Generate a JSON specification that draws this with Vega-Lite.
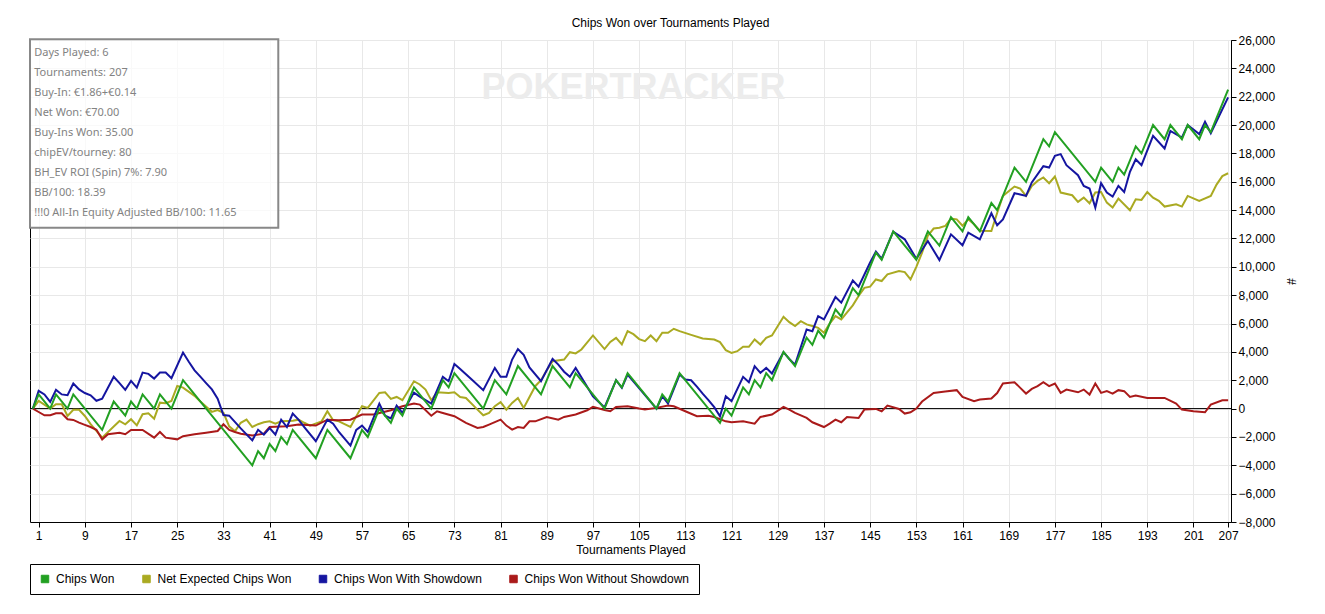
{
  "$schema": "https://vega.github.io/schema/vega-lite/v6.json",
  "width": 1201,
  "height": 482,
  "autosize": {"type": "none"},
  "padding": {"left": 30, "top": 40, "right": 94, "bottom": 92},
  "background": "white",
  "title": {
    "text": "Chips Won over Tournaments Played",
    "anchor": "middle",
    "dx": 40,
    "offset": 4,
    "font": "Liberation Sans",
    "fontSize": 12,
    "fontWeight": "normal",
    "color": "black"
  },
  "datasets": {
    "info": [
      {"line": 1, "label": "Days Played: 6"},
      {"line": 2, "label": "Tournaments: 207"},
      {"line": 3, "label": "Buy-In: €1.86+€0.14"},
      {"line": 4, "label": "Net Won: €70.00"},
      {"line": 5, "label": "Buy-Ins Won: 35.00"},
      {"line": 6, "label": "chipEV/tourney: 80"},
      {"line": 7, "label": "BH_EV ROI (Spin) 7%: 7.90"},
      {"line": 8, "label": "BB/100: 18.39"},
      {"line": 9, "label": "!!!0 All-In Equity Adjusted BB/100: 11.65"}
    ],
    "won": [
      {"t":0,"v":0},{"t":1,"v":1000},{"t":3,"v":0},{"t":4,"v":1000},{"t":6,"v":0},{"t":7,"v":1000},{"t":12,"v":-1500},{"t":14,"v":500},{"t":16,"v":-500},{"t":17,"v":500},{"t":18,"v":0},{"t":19,"v":1000},{"t":21,"v":0},{"t":22,"v":1000},{"t":24,"v":0},{"t":26,"v":2000},{"t":38,"v":-4000},{"t":39,"v":-3000},{"t":40,"v":-3500},{"t":41,"v":-2500},{"t":42,"v":-3000},{"t":43,"v":-2000},{"t":44,"v":-2500},{"t":45,"v":-1500},{"t":49,"v":-3500},{"t":51,"v":-1500},{"t":55,"v":-3500},{"t":57,"v":-1500},{"t":58,"v":-2000},{"t":60,"v":0},{"t":62,"v":-1000},{"t":63,"v":0},{"t":64,"v":-500},{"t":66,"v":1500},{"t":69,"v":0},{"t":71,"v":2000},{"t":72,"v":1500},{"t":73,"v":2500},{"t":78,"v":0},{"t":80,"v":2000},{"t":82,"v":1000},{"t":84,"v":3000},{"t":88,"v":1000},{"t":90,"v":3000},{"t":93,"v":1500},{"t":94,"v":2500},{"t":99,"v":0},{"t":101,"v":2000},{"t":102,"v":1500},{"t":103,"v":2500},{"t":108,"v":0},{"t":109,"v":1000},{"t":110,"v":500},{"t":112,"v":2500},{"t":119,"v":-1000},{"t":120,"v":0},{"t":121,"v":-500},{"t":123,"v":1500},{"t":124,"v":1000},{"t":125,"v":2000},{"t":126,"v":1500},{"t":127,"v":2500},{"t":128,"v":2000},{"t":130,"v":4000},{"t":132,"v":3000},{"t":134,"v":5000},{"t":135,"v":4500},{"t":136,"v":5500},{"t":137,"v":5000},{"t":139,"v":7000},{"t":140,"v":6500},{"t":142,"v":8500},{"t":143,"v":8000},{"t":146,"v":11000},{"t":147,"v":10500},{"t":149,"v":12500},{"t":153,"v":10500},{"t":155,"v":12500},{"t":157,"v":11500},{"t":159,"v":13500},{"t":161,"v":12500},{"t":162,"v":13500},{"t":164,"v":12500},{"t":166,"v":14500},{"t":167,"v":14000},{"t":170,"v":17000},{"t":172,"v":16000},{"t":175,"v":19000},{"t":176,"v":18500},{"t":177,"v":19500},{"t":184,"v":16000},{"t":185,"v":17000},{"t":187,"v":16000},{"t":188,"v":17000},{"t":189,"v":16500},{"t":191,"v":18500},{"t":192,"v":18000},{"t":194,"v":20000},{"t":196,"v":19000},{"t":197,"v":20000},{"t":199,"v":19000},{"t":200,"v":20000},{"t":202,"v":19000},{"t":203,"v":20000},{"t":204,"v":19500},{"t":207,"v":22500}
    ],
    "expected": [
      {"t":0,"v":0},{"t":1,"v":540},{"t":3,"v":0},{"t":4,"v":310},{"t":5,"v":310},{"t":6,"v":-520},{"t":7,"v":-90},{"t":8,"v":-90},{"t":9,"v":-520},{"t":10,"v":-1100},{"t":12,"v":-2050},{"t":14,"v":-1270},{"t":15,"v":-870},{"t":16,"v":-1110},{"t":17,"v":-750},{"t":18,"v":-1180},{"t":19,"v":-400},{"t":20,"v":-330},{"t":21,"v":-710},{"t":22,"v":420},{"t":23,"v":380},{"t":24,"v":540},{"t":25,"v":1600},{"t":26,"v":1480},{"t":28,"v":900},{"t":29,"v":500},{"t":31,"v":-230},{"t":32,"v":-100},{"t":33,"v":-300},{"t":34,"v":-1250},{"t":35,"v":-1600},{"t":36,"v":-1000},{"t":37,"v":-780},{"t":38,"v":-1300},{"t":39,"v":-1100},{"t":40,"v":-970},{"t":41,"v":-900},{"t":42,"v":-1060},{"t":43,"v":-900},{"t":45,"v":-850},{"t":46,"v":-780},{"t":47,"v":-1000},{"t":48,"v":-1200},{"t":50,"v":-900},{"t":51,"v":-190},{"t":52,"v":-820},{"t":53,"v":-900},{"t":55,"v":-1300},{"t":56,"v":-550},{"t":57,"v":170},{"t":58,"v":50},{"t":60,"v":1100},{"t":61,"v":1150},{"t":62,"v":680},{"t":63,"v":820},{"t":64,"v":590},{"t":66,"v":1930},{"t":67,"v":1700},{"t":68,"v":1340},{"t":69,"v":590},{"t":70,"v":1150},{"t":72,"v":1100},{"t":73,"v":1150},{"t":74,"v":820},{"t":75,"v":750},{"t":77,"v":-70},{"t":78,"v":-470},{"t":79,"v":-310},{"t":80,"v":170},{"t":81,"v":450},{"t":82,"v":-70},{"t":83,"v":400},{"t":84,"v":750},{"t":85,"v":50},{"t":87,"v":1580},{"t":88,"v":2000},{"t":89,"v":2700},{"t":90,"v":3340},{"t":92,"v":3460},{"t":93,"v":3980},{"t":94,"v":3890},{"t":95,"v":4170},{"t":97,"v":5160},{"t":99,"v":4200},{"t":100,"v":4700},{"t":101,"v":4990},{"t":102,"v":4520},{"t":103,"v":5460},{"t":104,"v":5250},{"t":105,"v":4900},{"t":106,"v":4760},{"t":107,"v":5160},{"t":108,"v":4760},{"t":109,"v":5350},{"t":110,"v":5350},{"t":111,"v":5630},{"t":112,"v":5460},{"t":114,"v":5200},{"t":116,"v":4950},{"t":118,"v":4870},{"t":119,"v":4690},{"t":120,"v":4120},{"t":121,"v":3930},{"t":122,"v":4050},{"t":123,"v":4360},{"t":124,"v":4360},{"t":125,"v":4880},{"t":126,"v":4520},{"t":127,"v":4990},{"t":128,"v":5160},{"t":130,"v":6480},{"t":131,"v":6100},{"t":132,"v":5820},{"t":133,"v":6170},{"t":134,"v":5940},{"t":135,"v":5820},{"t":136,"v":5700},{"t":137,"v":5350},{"t":138,"v":6000},{"t":139,"v":6520},{"t":140,"v":6290},{"t":142,"v":7280},{"t":143,"v":7940},{"t":144,"v":8520},{"t":145,"v":8600},{"t":146,"v":9110},{"t":147,"v":9000},{"t":148,"v":9470},{"t":150,"v":9700},{"t":151,"v":9630},{"t":152,"v":9110},{"t":153,"v":10000},{"t":154,"v":11000},{"t":155,"v":12200},{"t":156,"v":12700},{"t":157,"v":12760},{"t":158,"v":12880},{"t":159,"v":13400},{"t":160,"v":13350},{"t":161,"v":12900},{"t":162,"v":13350},{"t":163,"v":13000},{"t":164,"v":12550},{"t":166,"v":12530},{"t":167,"v":13800},{"t":168,"v":15000},{"t":170,"v":15660},{"t":171,"v":15520},{"t":172,"v":15000},{"t":173,"v":15700},{"t":174,"v":16060},{"t":175,"v":16300},{"t":176,"v":15900},{"t":177,"v":16370},{"t":178,"v":15240},{"t":180,"v":15050},{"t":181,"v":14580},{"t":182,"v":14880},{"t":183,"v":14480},{"t":184,"v":15240},{"t":185,"v":15280},{"t":186,"v":14530},{"t":187,"v":14180},{"t":188,"v":14810},{"t":190,"v":13990},{"t":191,"v":14770},{"t":192,"v":14720},{"t":193,"v":15280},{"t":194,"v":14880},{"t":195,"v":14650},{"t":196,"v":14250},{"t":198,"v":14410},{"t":199,"v":14250},{"t":200,"v":15000},{"t":202,"v":14650},{"t":204,"v":15000},{"t":205,"v":15800},{"t":206,"v":16400},{"t":207,"v":16600}
    ],
    "showdown": [
      {"t":0,"v":0},{"t":1,"v":1250},{"t":2,"v":1000},{"t":3,"v":470},{"t":4,"v":1320},{"t":5,"v":1000},{"t":6,"v":940},{"t":7,"v":1770},{"t":8,"v":1350},{"t":9,"v":1100},{"t":10,"v":940},{"t":11,"v":550},{"t":12,"v":700},{"t":14,"v":2240},{"t":15,"v":1800},{"t":16,"v":1320},{"t":17,"v":1950},{"t":18,"v":1480},{"t":19,"v":2540},{"t":20,"v":2450},{"t":21,"v":2120},{"t":22,"v":2540},{"t":23,"v":2540},{"t":24,"v":2140},{"t":26,"v":3950},{"t":27,"v":3300},{"t":28,"v":2700},{"t":29,"v":2250},{"t":30,"v":1800},{"t":31,"v":1350},{"t":32,"v":700},{"t":33,"v":-450},{"t":34,"v":-500},{"t":36,"v":-1400},{"t":38,"v":-2240},{"t":39,"v":-1500},{"t":40,"v":-1840},{"t":41,"v":-1370},{"t":42,"v":-1840},{"t":43,"v":-780},{"t":44,"v":-1300},{"t":45,"v":-350},{"t":46,"v":-780},{"t":47,"v":-1300},{"t":49,"v":-2300},{"t":51,"v":-780},{"t":52,"v":-1060},{"t":53,"v":-1650},{"t":55,"v":-2610},{"t":56,"v":-1500},{"t":57,"v":-1200},{"t":58,"v":-1650},{"t":60,"v":350},{"t":61,"v":-500},{"t":62,"v":-700},{"t":63,"v":200},{"t":64,"v":-300},{"t":66,"v":1130},{"t":67,"v":850},{"t":69,"v":350},{"t":71,"v":2240},{"t":72,"v":1930},{"t":73,"v":3150},{"t":74,"v":2800},{"t":76,"v":2050},{"t":78,"v":1300},{"t":80,"v":2870},{"t":81,"v":2240},{"t":82,"v":2240},{"t":83,"v":3460},{"t":84,"v":4200},{"t":85,"v":3800},{"t":86,"v":2900},{"t":88,"v":1930},{"t":90,"v":3500},{"t":91,"v":3100},{"t":92,"v":2600},{"t":93,"v":2240},{"t":94,"v":2870},{"t":97,"v":870},{"t":99,"v":80},{"t":101,"v":2000},{"t":102,"v":1460},{"t":103,"v":2400},{"t":108,"v":0},{"t":109,"v":870},{"t":110,"v":350},{"t":112,"v":2400},{"t":113,"v":2050},{"t":114,"v":2000},{"t":115,"v":1550},{"t":116,"v":1050},{"t":117,"v":600},{"t":118,"v":100},{"t":119,"v":-540},{"t":120,"v":870},{"t":121,"v":520},{"t":123,"v":2240},{"t":124,"v":1860},{"t":125,"v":2990},{"t":126,"v":2520},{"t":127,"v":2870},{"t":128,"v":2470},{"t":130,"v":3980},{"t":131,"v":3500},{"t":132,"v":3100},{"t":134,"v":5580},{"t":135,"v":5460},{"t":136,"v":6520},{"t":137,"v":6290},{"t":139,"v":7870},{"t":140,"v":7470},{"t":142,"v":9040},{"t":143,"v":8600},{"t":145,"v":10300},{"t":146,"v":11070},{"t":147,"v":10570},{"t":149,"v":12480},{"t":151,"v":11940},{"t":153,"v":10570},{"t":155,"v":11820},{"t":157,"v":10480},{"t":159,"v":12290},{"t":161,"v":11520},{"t":162,"v":12410},{"t":164,"v":11940},{"t":166,"v":13780},{"t":167,"v":12930},{"t":168,"v":13350},{"t":170,"v":15190},{"t":171,"v":15100},{"t":172,"v":15000},{"t":173,"v":15950},{"t":175,"v":17100},{"t":176,"v":17000},{"t":177,"v":17830},{"t":178,"v":17950},{"t":179,"v":17170},{"t":181,"v":16460},{"t":182,"v":15710},{"t":183,"v":15520},{"t":184,"v":14180},{"t":185,"v":15900},{"t":186,"v":15240},{"t":187,"v":14950},{"t":188,"v":15710},{"t":189,"v":15280},{"t":190,"v":16700},{"t":191,"v":17590},{"t":192,"v":17170},{"t":194,"v":19240},{"t":196,"v":18350},{"t":197,"v":19590},{"t":199,"v":19120},{"t":200,"v":20000},{"t":202,"v":19360},{"t":203,"v":20230},{"t":204,"v":19430},{"t":207,"v":21950}
    ],
    "noshowdown": [
      {"t":0,"v":0},{"t":1,"v":-240},{"t":2,"v":-470},{"t":3,"v":-470},{"t":4,"v":-330},{"t":5,"v":-330},{"t":6,"v":-750},{"t":7,"v":-800},{"t":8,"v":-990},{"t":9,"v":-1150},{"t":10,"v":-1300},{"t":11,"v":-1500},{"t":12,"v":-2170},{"t":13,"v":-1810},{"t":15,"v":-1700},{"t":16,"v":-1810},{"t":17,"v":-1510},{"t":19,"v":-1510},{"t":21,"v":-2050},{"t":22,"v":-1650},{"t":23,"v":-2050},{"t":25,"v":-2170},{"t":26,"v":-1950},{"t":28,"v":-1810},{"t":30,"v":-1700},{"t":32,"v":-1580},{"t":33,"v":-1110},{"t":34,"v":-1500},{"t":35,"v":-1650},{"t":36,"v":-1770},{"t":38,"v":-1900},{"t":40,"v":-1770},{"t":41,"v":-1300},{"t":44,"v":-1250},{"t":46,"v":-1130},{"t":49,"v":-1200},{"t":51,"v":-780},{"t":53,"v":-820},{"t":55,"v":-780},{"t":57,"v":-420},{"t":59,"v":-420},{"t":62,"v":-120},{"t":64,"v":160},{"t":66,"v":350},{"t":67,"v":280},{"t":69,"v":-500},{"t":70,"v":-190},{"t":71,"v":-310},{"t":73,"v":-540},{"t":75,"v":-1010},{"t":77,"v":-1370},{"t":78,"v":-1300},{"t":79,"v":-1130},{"t":81,"v":-780},{"t":82,"v":-1200},{"t":83,"v":-1480},{"t":84,"v":-1300},{"t":85,"v":-1370},{"t":86,"v":-900},{"t":87,"v":-900},{"t":89,"v":-590},{"t":91,"v":-780},{"t":92,"v":-590},{"t":94,"v":-420},{"t":96,"v":-120},{"t":97,"v":120},{"t":99,"v":-100},{"t":100,"v":-190},{"t":101,"v":120},{"t":103,"v":165},{"t":105,"v":0},{"t":106,"v":-70},{"t":108,"v":50},{"t":110,"v":210},{"t":111,"v":165},{"t":113,"v":-190},{"t":115,"v":-540},{"t":117,"v":-500},{"t":118,"v":-590},{"t":120,"v":-900},{"t":121,"v":-970},{"t":123,"v":-900},{"t":125,"v":-1060},{"t":126,"v":-590},{"t":128,"v":-420},{"t":130,"v":120},{"t":131,"v":-70},{"t":132,"v":-300},{"t":134,"v":-660},{"t":135,"v":-965},{"t":137,"v":-1300},{"t":138,"v":-1060},{"t":139,"v":-780},{"t":140,"v":-965},{"t":141,"v":-590},{"t":143,"v":-660},{"t":144,"v":-70},{"t":146,"v":-24},{"t":147,"v":-190},{"t":148,"v":210},{"t":150,"v":-24},{"t":151,"v":-350},{"t":152,"v":-260},{"t":153,"v":0},{"t":154,"v":500},{"t":156,"v":1100},{"t":158,"v":1200},{"t":160,"v":1300},{"t":161,"v":820},{"t":163,"v":520},{"t":164,"v":640},{"t":166,"v":710},{"t":167,"v":1100},{"t":168,"v":1770},{"t":170,"v":1860},{"t":171,"v":1460},{"t":172,"v":1060},{"t":173,"v":1390},{"t":174,"v":1580},{"t":175,"v":1860},{"t":176,"v":1580},{"t":177,"v":1770},{"t":178,"v":1110},{"t":179,"v":1340},{"t":181,"v":1150},{"t":182,"v":1340},{"t":183,"v":990},{"t":184,"v":1770},{"t":185,"v":1110},{"t":186,"v":1230},{"t":187,"v":1060},{"t":188,"v":1300},{"t":189,"v":1230},{"t":190,"v":820},{"t":191,"v":920},{"t":193,"v":750},{"t":196,"v":750},{"t":198,"v":350},{"t":199,"v":-70},{"t":201,"v":-190},{"t":203,"v":-260},{"t":204,"v":280},{"t":206,"v":590},{"t":207,"v":590}
    ]
  },
  "layer": [
    {
      "layer": [
        {
          "data": {"values": [{}]},
          "mark": {"type": "rule", "color": "black", "strokeWidth": 1},
          "encoding": {
            "y": {
              "datum": 0,
              "type": "quantitative",
              "title": "#",
              "scale": {"domain": [-8000, 26000], "nice": false, "zero": false},
              "axis": {
                "orient": "right",
                "values": [-8000, -6000, -4000, -2000, 0, 2000, 4000, 6000, 8000, 10000, 12000, 14000, 16000, 18000, 20000, 22000, 24000, 26000],
                "tickCount": 40,
                "labelExpr": "format(datum.value, ',')",
                "labelFlush": false,
                "labelOverlap": false,
                "labelPadding": 2,
                "titlePadding": 8,
                "grid": true
              }
            }
          }
        },
        {
          "data": {"name": "expected"},
          "mark": {"type": "line", "strokeWidth": 2},
          "encoding": {
            "x": {
              "field": "t",
              "type": "quantitative",
              "title": "Tournaments Played",
              "scale": {"domain": [-0.5, 207.5], "nice": false, "zero": false},
              "axis": {
                "values": [1, 9, 17, 25, 33, 41, 49, 57, 65, 73, 81, 89, 97, 105, 113, 121, 129, 137, 145, 153, 161, 169, 177, 185, 193, 201, 207],
                "tickCount": 60,
                "labelFlush": false,
                "labelOverlap": false,
                "labelPadding": 3,
                "titlePadding": 3,
                "grid": true
              }
            },
            "y": {
              "field": "v",
              "type": "quantitative",
              "title": "#",
              "axis": {
                "orient": "right",
                "values": [-8000, -6000, -4000, -2000, 0, 2000, 4000, 6000, 8000, 10000, 12000, 14000, 16000, 18000, 20000, 22000, 24000, 26000],
                "tickCount": 40,
                "labelExpr": "format(datum.value, ',')",
                "labelFlush": false,
                "labelOverlap": false,
                "labelPadding": 2,
                "titlePadding": 8,
                "grid": true
              }
            },
            "color": {
              "datum": "Net Expected Chips Won",
              "type": "nominal",
              "scale": {
                "domain": ["Chips Won", "Net Expected Chips Won", "Chips Won With Showdown", "Chips Won Without Showdown"],
                "range": ["#22a022", "#aaaa22", "#1515a0", "#aa1a1a"]
              },
              "legend": {
                "orient": "none",
                "legendX": 0,
                "legendY": 524,
                "direction": "horizontal",
                "title": null,
                "symbolType": "square",
                "symbolSize": 56,
                "symbolStrokeColor": "black",
                "symbolStrokeWidth": 1,
                "labelFont": "Liberation Sans",
                "labelFontSize": 12,
                "labelColor": "black",
                "labelLimit": 300,
                "labelOffset": 5,
                "columnPadding": 25.5,
                "padding": 9,
                "strokeColor": "black",
                "fillColor": "white",
                "encode": {
                  "symbols": {
                    "update": {
                      "fill": {"scale": "color", "field": "value"},
                      "fillOpacity": {"value": 1},
                      "stroke": {"value": "black"},
                      "strokeWidth": {"value": 1}
                    }
                  }
                }
              }
            }
          }
        },
        {
          "data": {"name": "noshowdown"},
          "mark": {"type": "line", "strokeWidth": 2},
          "encoding": {
            "x": {"field": "t", "type": "quantitative"},
            "y": {"field": "v", "type": "quantitative"},
            "color": {"datum": "Chips Won Without Showdown", "type": "nominal"}
          }
        },
        {
          "data": {"name": "showdown"},
          "mark": {"type": "line", "strokeWidth": 2},
          "encoding": {
            "x": {"field": "t", "type": "quantitative"},
            "y": {"field": "v", "type": "quantitative"},
            "color": {"datum": "Chips Won With Showdown", "type": "nominal"}
          }
        },
        {
          "data": {"name": "won"},
          "mark": {"type": "line", "strokeWidth": 2},
          "encoding": {
            "x": {"field": "t", "type": "quantitative"},
            "y": {"field": "v", "type": "quantitative"},
            "color": {"datum": "Chips Won", "type": "nominal"}
          }
        }
      ]
    },
    {
      "layer": [
        {
          "data": {"values": [{}]},
          "mark": {"type": "text", "text": "POKERTRACKER", "font": "Liberation Sans", "fontWeight": "bold", "fontSize": 36, "color": "#ececec", "align": "center", "baseline": "middle"},
          "encoding": {
            "x": {"datum": 104, "type": "quantitative"},
            "y": {"datum": 2.87, "type": "quantitative", "scale": {"domain": [0.45, 24.52], "reverse": true, "nice": false, "zero": false}, "axis": null}
          }
        },
        {
          "data": {"values": [{}]},
          "mark": {"type": "rect", "fill": "white", "fillOpacity": 0.75, "stroke": "#888888", "strokeWidth": 2},
          "encoding": {
            "x": {"datum": -0.5, "type": "quantitative"},
            "x2": {"datum": 42.5},
            "y": {"datum": 0.415, "type": "quantitative", "axis": null},
            "y2": {"datum": 9.83}
          }
        },
        {
          "data": {"name": "info"},
          "mark": {"type": "text", "align": "left", "baseline": "middle", "dy": 2, "font": "Noto Sans", "fontSize": 11, "color": "#828282"},
          "encoding": {
            "x": {"datum": 0.24, "type": "quantitative"},
            "y": {"field": "line", "type": "quantitative", "axis": null},
            "text": {"field": "label", "type": "nominal"}
          }
        }
      ]
    }
  ],
  "resolve": {"scale": {"y": "independent"}},
  "config": {
    "font": "Liberation Sans",
    "view": {"stroke": "black", "strokeWidth": 1},
    "axis": {
      "labelFont": "Liberation Sans",
      "labelFontSize": 12,
      "labelColor": "black",
      "titleFont": "Liberation Sans",
      "titleFontSize": 12,
      "titleFontWeight": "normal",
      "titleColor": "black",
      "tickColor": "black",
      "tickSize": 5,
      "domainColor": "black",
      "gridColor": "#e8e8e8"
    }
  }
}
